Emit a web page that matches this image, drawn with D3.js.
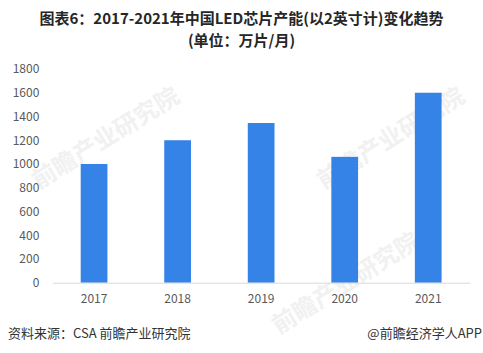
<!DOCTYPE html>
<html><head><meta charset="utf-8">
<script src="https://cdn.jsdelivr.net/npm/d3@7/dist/d3.min.js"></script>
<style>body{margin:0;background:#fff}svg{display:block}</style>
</head><body>
<svg id="c" width="483" height="353"></svg>
<script>
const categories = ["2017","2018","2019","2020","2021"];
const values = [1000, 1200, 1345, 1060, 1600];
const yTicks = [0,200,400,600,800,1000,1200,1400,1600,1800];
const titleLines = ["图表6：2017-2021年中国LED芯片产能(以2英寸计)变化趋势","(单位：万片/月)"];
const sourceText = "资料来源：CSA 前瞻产业研究院";
const brandText = "@前瞻经济学人APP";

const svg = d3.select("#c");
const font = "'Noto Sans CJK SC','Noto Sans',sans-serif";
const m = {left:52.3, right:470, top:69, bottom:282.7};

// faint watermarks
const wm = svg.append("g").attr("fill","#f1f1f1").style("font-family",font).style("font-weight","bold");
[[110,145],[395,145],[350,290]].forEach(([x,y])=>{
  wm.append("text").attr("transform",`translate(${x},${y}) rotate(-32)`).attr("text-anchor","middle")
    .style("font-size","24px").text("前瞻产业研究院");
});

const x = d3.scaleBand().domain(categories).range([m.left,m.right]).paddingInner(0.68).paddingOuter(0.34);
const y = d3.scaleLinear().domain([0,1800]).range([m.bottom,m.top]);

svg.append("g").selectAll("rect").data(values).join("rect")
  .attr("x",(d,i)=>x(categories[i])).attr("width",x.bandwidth())
  .attr("y",d=>y(d)).attr("height",d=>y(0)-y(d)).attr("fill","#3583e6");

const ya = svg.append("g").attr("transform",`translate(${m.left},0)`)
  .call(d3.axisLeft(y).tickValues(yTicks).tickFormat(d3.format("d")).tickSize(0).tickPadding(13));
ya.select(".domain").remove();
ya.selectAll("text").attr("fill","#595959").style("font-size","12px").style("font-family",font);

const xa = svg.append("g").attr("transform",`translate(0,${m.bottom})`)
  .call(d3.axisBottom(x).tickSize(0).tickPadding(12));
xa.select(".domain").attr("stroke","#d9d9d9");
xa.selectAll("text").attr("fill","#595959").style("font-size","12px").style("font-family",font);

const title = svg.append("text").attr("text-anchor","middle")
  .attr("fill","#262626").style("font-weight","bold").style("font-size","15px")
  .style("font-family",font);
title.selectAll("tspan").data(titleLines).join("tspan")
  .attr("x",241.5).attr("y",(d,i)=>24+i*22).text(d=>d);

svg.append("text").attr("x",8).attr("y",338).attr("fill","#333")
  .style("font-size","13px").style("font-family",font).text(sourceText);
svg.append("text").attr("x",482).attr("y",338).attr("text-anchor","end").attr("fill","#333")
  .style("font-size","13px").style("font-family",font).text(brandText);
</script>
</body></html>
